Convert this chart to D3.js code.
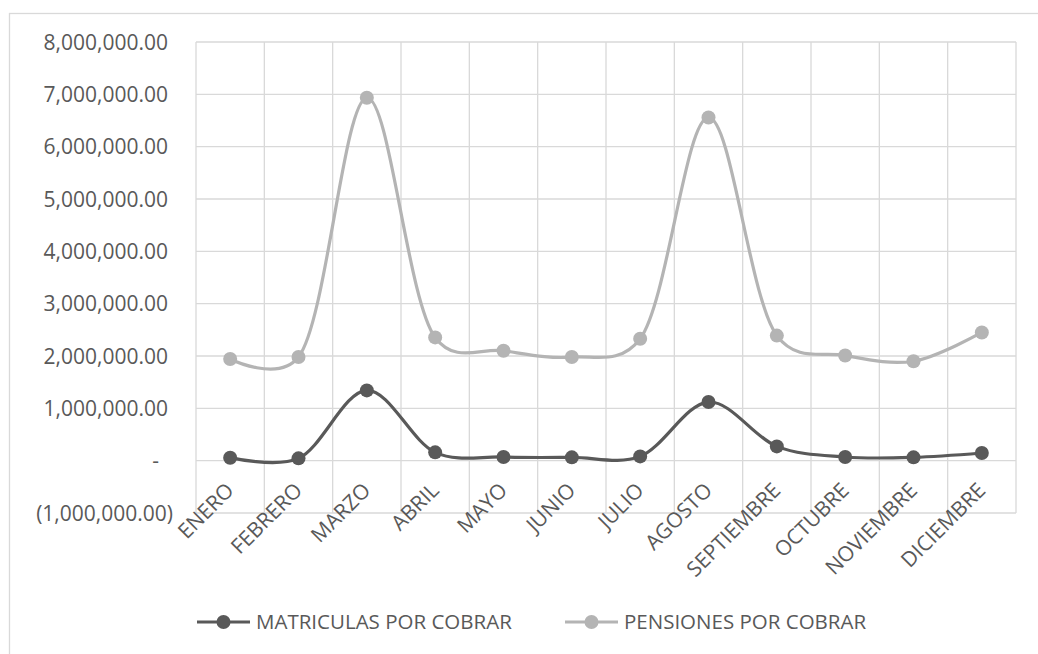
<!DOCTYPE html>
<html>
<head>
<meta charset="utf-8">
<script src="https://cdn.jsdelivr.net/npm/d3@7"></script>
<style>
  body { margin: 0; background: #fff; }
  svg text { font-family: "Open Sans", "Liberation Sans", sans-serif; fill: #595959; }
</style>
</head>
<body>
<svg width="1038" height="654"></svg>
<script>
var months = ['ENERO', 'FEBRERO', 'MARZO', 'ABRIL', 'MAYO', 'JUNIO', 'JULIO',
  'AGOSTO', 'SEPTIEMBRE', 'OCTUBRE', 'NOVIEMBRE', 'DICIEMBRE'];

var matriculas = [57000, 44000, 1343000, 159000, 70000, 63000, 82000,
  1120000, 273000, 70000, 63000, 147000];

var pensiones = [1943000, 1980000, 6934000, 2355000, 2100000, 1980000, 2330000,
  6558000, 2390000, 2010000, 1900000, 2450000];

var yTicks = [-1000000, 0, 1000000, 2000000, 3000000, 4000000, 5000000, 6000000, 7000000, 8000000];

var seriesNames = ['MATRICULAS POR COBRAR', 'PENSIONES POR COBRAR'];
var seriesColors = ['#595959', '#b4b4b4'];

var svg = d3.select('svg');

// chart frame
svg.append('rect')
  .attr('x', 9.5).attr('y', 13.5)
  .attr('width', 1040).attr('height', 700)
  .attr('fill', 'none').attr('stroke', '#d9d9d9').attr('stroke-width', 1.3);

var pLeft = 196, pRight = 1016, pTop = 42, pBottom = 513;

var x = d3.scaleBand().domain(months).range([pLeft, pRight]);
var y = d3.scaleLinear().domain([-1000000, 8000000]).range([pBottom, pTop]);

// horizontal grid
svg.append('g').selectAll('line')
  .data(yTicks).enter().append('line')
  .attr('x1', pLeft).attr('x2', pRight)
  .attr('y1', function(d) { return y(d); })
  .attr('y2', function(d) { return y(d); })
  .attr('stroke', '#d9d9d9').attr('stroke-width', 1.3);

// vertical grid (category boundaries)
var bounds = months.map(function(m) { return x(m); }).concat([pRight]);
svg.append('g').selectAll('line')
  .data(bounds).enter().append('line')
  .attr('x1', function(d) { return d; }).attr('x2', function(d) { return d; })
  .attr('y1', pTop).attr('y2', pBottom)
  .attr('stroke', '#d9d9d9').attr('stroke-width', 1.3);

// y labels
var fmt = d3.format(',.2f');
svg.append('g').selectAll('text')
  .data(yTicks).enter().append('text')
  .attr('x', function(d) { return d < 0 ? 173 : (d == 0 ? 159 : 168); })
  .attr('y', function(d) { return y(d) + 7.5; })
  .attr('text-anchor', 'end')
  .style('font-size', '21px')
  .text(function(d) {
    if (d == 0) return '-';
    if (d < 0) return '(' + fmt(-d) + ')';
    return fmt(d);
  });

// x labels, rotated below the zero line
svg.append('g').selectAll('text')
  .data(months).enter().append('text')
  .attr('transform', function(d) {
    var cx = x(d) + x.bandwidth() / 2 + 5;
    return 'translate(' + cx + ',' + (y(0) + 31) + ') rotate(-45)';
  })
  .attr('text-anchor', 'end')
  .style('font-size', '21px')
  .text(function(d) { return d; });

var line = d3.line()
  .x(function(d, i) { return x(months[i]) + x.bandwidth() / 2; })
  .y(function(d) { return y(d); })
  .curve(d3.curveCatmullRom.alpha(0.25));

[pensiones, matriculas].forEach(function(data, k) {
  var col = k == 0 ? seriesColors[1] : seriesColors[0];
  svg.append('path')
    .attr('d', line(data))
    .attr('fill', 'none')
    .attr('stroke', col)
    .attr('stroke-width', 3.2);
  svg.append('g').selectAll('circle')
    .data(data).enter().append('circle')
    .attr('cx', function(d, i) { return x(months[i]) + x.bandwidth() / 2; })
    .attr('cy', function(d) { return y(d); })
    .attr('r', 7)
    .attr('fill', col);
});

// legend
var legendX = [197, 565];
seriesNames.forEach(function(name, i) {
  var g = svg.append('g').attr('transform', 'translate(' + legendX[i] + ',622)');
  g.append('line').attr('x1', 0).attr('x2', 53).attr('y1', 0).attr('y2', 0)
    .attr('stroke', seriesColors[i]).attr('stroke-width', 3.2);
  g.append('circle').attr('cx', 26.5).attr('cy', 0).attr('r', 7).attr('fill', seriesColors[i]);
  g.append('text').attr('x', 59).attr('y', 7)
    .style('font-size', '20.5px')
    .text(name);
});
</script>
</body>
</html>
